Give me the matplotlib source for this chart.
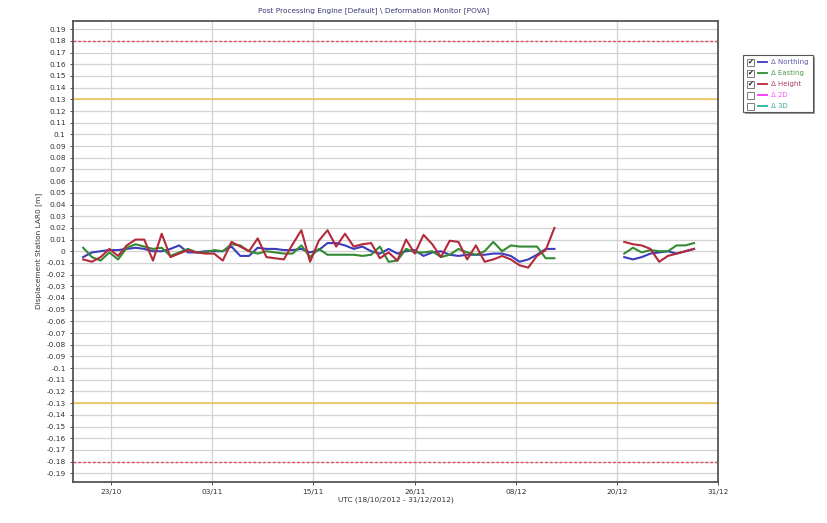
import numpy as np
import matplotlib
matplotlib.use("Agg")
import matplotlib.pyplot as plt
from matplotlib.patches import Rectangle
from matplotlib.lines import Line2D

plt.rcParams['font.family'] = ['DejaVu Sans']

# daily solutions, days counted from 18/10/2012 00:00
first_sample = 1.2
nan = np.nan

northing = [-0.005, -0.001, 0.000, 0.001, 0.001, 0.002, 0.003, 0.002, 0.000, 0.000,
            0.002, 0.005, -0.001, -0.001, 0.000, 0.000, 0.000, 0.004, -0.004, -0.004,
            0.003, 0.002, 0.002, 0.001, 0.001, 0.002, -0.001, 0.001, 0.007, 0.007,
            0.005, 0.002, 0.004, 0.000, -0.002, 0.002, -0.002, 0.000, 0.001, -0.004,
            -0.001, 0.000, -0.003, -0.004, -0.003, -0.003, -0.003, -0.002, -0.002, -0.004,
            -0.009, -0.007, -0.003, 0.002, 0.002,
            nan, nan, nan, nan, nan, nan, nan,
            -0.005, -0.007, -0.005, -0.002, -0.001, 0.000, -0.002, 0.000, 0.002]

easting = [0.003, -0.005, -0.008, -0.001, -0.007, 0.003, 0.006, 0.004, 0.002, 0.003,
           -0.004, -0.001, 0.002, -0.001, -0.001, 0.001, 0.000, 0.006, 0.005, 0.000,
           -0.002, 0.000, -0.001, -0.002, -0.002, 0.005, -0.005, 0.002, -0.003, -0.003,
           -0.003, -0.003, -0.004, -0.003, 0.004, -0.009, -0.008, 0.002, -0.001, -0.001,
           0.000, -0.005, -0.003, 0.002, -0.001, -0.003, 0.000, 0.008, 0.000, 0.005,
           0.004, 0.004, 0.004, -0.006, -0.006,
           nan, nan, nan, nan, nan, nan, nan,
           -0.002, 0.003, -0.001, 0.001, 0.000, 0.000, 0.005, 0.005, 0.007]

height = [-0.007, -0.009, -0.005, 0.002, -0.004, 0.005, 0.010, 0.010, -0.008, 0.015,
          -0.005, -0.002, 0.001, -0.001, -0.002, -0.002, -0.008, 0.008, 0.004, 0.000,
          0.011, -0.005, -0.006, -0.007, 0.006, 0.018, -0.009, 0.009, 0.018, 0.004,
          0.015, 0.004, 0.006, 0.007, -0.006, -0.001, -0.008, 0.010, -0.002, 0.014,
          0.006, -0.005, 0.009, 0.008, -0.007, 0.005, -0.009, -0.007, -0.004, -0.007,
          -0.012, -0.014, -0.004, 0.001, 0.020,
          nan, nan, nan, nan, nan, nan, nan,
          0.008, 0.006, 0.005, 0.002, -0.009, -0.004, -0.002, 0.000, 0.002]

x_labels = ["23/10", "03/11", "15/11", "26/11", "08/12", "20/12", "31/12"]
limits_warn = 0.13
limits_alarm = 0.18

days = first_sample + np.arange(len(height))
span = 74.0
tick_step = 11.607
x_ticks = span - tick_step * np.arange(len(x_labels))[::-1]

fig = plt.figure(figsize=(8.27, 5.23), dpi=100)
ax = fig.add_axes([0.0879, 0.0784, 0.7809, 0.8824])

y_ticks = np.round(np.arange(-0.19, 0.1901, 0.01), 2)
ax.set_yticks(y_ticks)
ax.set_yticklabels([f"{v:g}" for v in y_ticks])
ax.set_ylim(-0.1975, 0.1975)
ax.set_xlim(0, span)
ax.set_xticks(x_ticks)
ax.set_xticklabels(x_labels)

ax.grid(True, color="#d2d2d2", linewidth=0.9)
ax.set_axisbelow(True)

ax.axhline(limits_alarm, color="#e8485a", linestyle=(0, (2, 1.5)), linewidth=1.0)
ax.axhline(-limits_alarm, color="#e8485a", linestyle=(0, (2, 1.5)), linewidth=1.0)
ax.axhline(limits_warn, color="#f2c24e", linewidth=1.1)
ax.axhline(-limits_warn, color="#f2c24e", linewidth=1.1)

ax.plot(days, northing, color="#3c3cbe", linewidth=1.5)
ax.plot(days, easting, color="#338a33", linewidth=1.5)
ax.plot(days, height, color="#b52a3a", linewidth=1.5)

for s in ax.spines.values():
    s.set_color("#555555")
    s.set_linewidth(1.3)
ax.tick_params(labelsize=5.3, colors="#333333", length=2, width=0.6, pad=3)

ax.set_xlabel("UTC (18/10/2012 - 31/12/2012)", fontsize=5.3, color="#333333", labelpad=1)
ax.set_ylabel("Displacement Station LAR0 [m]", fontsize=5.3, color="#333333", labelpad=3)
fig.text(0.452, 0.979, "Post Processing Engine [Default] \\ Deformation Monitor [POVA]",
         fontsize=5.3, color="#3a3a78", ha="center", va="center")

# checkbox legend to the right of the plot
lg = fig.add_axes([0, 0, 1, 1], facecolor="none")
lg.set_xlim(0, 827)
lg.set_ylim(523, 0)
lg.axis("off")
lg.add_patch(Rectangle((745, 57), 70, 57, facecolor="#999999", edgecolor="none"))
lg.add_patch(Rectangle((743, 55), 70, 57, facecolor="white", edgecolor="#555555", linewidth=0.8))

names = ["\u0394 Northing", "\u0394 Easting", "\u0394 Height", "\u0394 2D", "\u0394 3D"]
line_cols = ["#3c3cbe", "#338a33", "#b52a3a", "#ff33ff", "#2ab3a3"]
text_cols = ["#5a5ab0", "#4c9a4c", "#b04060", "#ff55ff", "#3aaa9a"]
checked = [True, True, True, False, False]
for k, (nm, lc, tc, on) in enumerate(zip(names, line_cols, text_cols, checked)):
    yy = 62 + k * 11
    lg.add_patch(Rectangle((747, yy - 3.5), 7, 7, facecolor="white", edgecolor="#666666", linewidth=0.6))
    if on:
        lg.text(750.5, yy, "\u2714", fontsize=5, color="#111111", ha="center", va="center")
    lg.add_line(Line2D([757.5, 766.5], [yy, yy], color=lc, linewidth=1.3))
    lg.text(771, yy, nm, fontsize=5, color=tc, ha="left", va="center")

fig.savefig("out.png", dpi=100)
